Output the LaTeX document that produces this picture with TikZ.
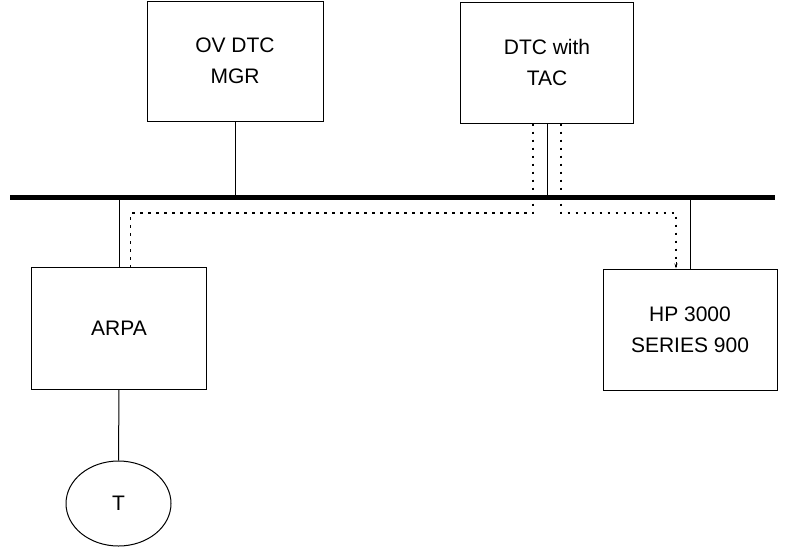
\documentclass[tikz,border=0pt]{standalone}
\usepackage{fontspec}
\setmainfont{Liberation Sans}
\usetikzlibrary{shapes.geometric,arrows.meta}
\begin{document}
\begin{tikzpicture}[x=1pt,y=-1pt,
  box/.style={draw,line width=1pt,inner sep=0pt,align=center,
    font=\fontsize{21}{31}\selectfont},
  thin/.style={line width=1pt},
  dotline/.style={line width=1.3pt,dash pattern=on 2.5pt off 5.5pt},
  bus/.style={line width=5pt}]
\useasboundingbox (0,0) rectangle (789,547);
\node[box,minimum width=176,minimum height=120] (ov) at (235,61) {OV DTC\\MGR};
\node[box,minimum width=173,minimum height=121] (dtc) at (547,62.5) {DTC with\\TAC};
\node[box,minimum width=175,minimum height=122] (arpa) at (119,328) {ARPA};
\node[box,minimum width=174,minimum height=121] (hp) at (690,329.5) {HP 3000\\SERIES 900};
\node[box,ellipse,minimum width=105,minimum height=85] (t) at (118.5,503.5) {T};
\coordinate (busL) at (10,197);
\coordinate (busR) at (775,197);
\draw[bus] (busL) -- (busR);
\draw[thin] (ov.south) -- (ov.south |- busL);
\draw[thin] (dtc.south) -- (dtc.south |- busL);
\draw[thin] (arpa.north |- busL) -- (arpa.north);
\draw[thin] (hp.north |- busL) -- (hp.north);
\draw[thin] (arpa.south) -- (t.north);
\coordinate (dl) at (533,213);
\coordinate (dr) at (561,213);
\coordinate (al) at (130.5,213);
\coordinate (hr) at (676,213);
\draw[dotline] (dtc.south -| dl) -- (dl) -- (al) -- (al |- arpa.north);
\draw[dotline] (dtc.south -| dr) -- (dr) -- (hr) -- (hr |- hp.north);
\draw[line width=1pt,-{Stealth[length=5pt,width=3pt]}] (676,262) -- (hr |- hp.north);
\end{tikzpicture}
\end{document}
